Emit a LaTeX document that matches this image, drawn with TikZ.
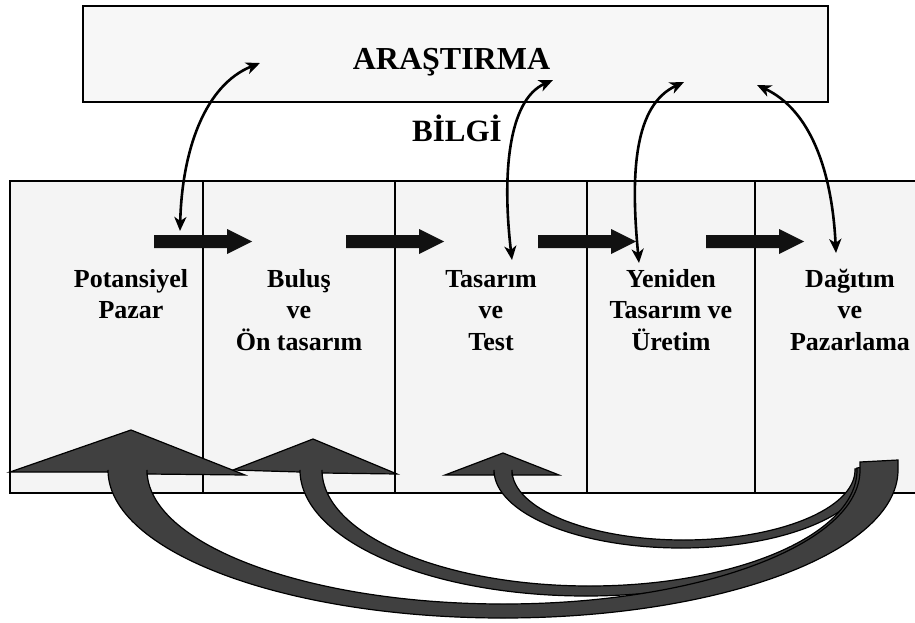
\documentclass[tikz,border=0pt]{standalone}
\usepackage{fontspec}
\setmainfont{Liberation Serif}
\usetikzlibrary{arrows.meta,positioning,calc}
\definecolor{boxgray}{RGB}{247,247,247}
\definecolor{colgray}{RGB}{244,244,244}
\definecolor{flowblack}{RGB}{17,17,17}
\definecolor{loopgray}{RGB}{64,64,64}

\begin{document}
\begin{tikzpicture}[
    x=1pt, y=1pt,
    resbox/.style={draw, line width=1.5pt, fill=boxgray, minimum width=745pt, minimum height=96pt, inner sep=0pt},
    stage/.style={draw, line width=1.5pt, fill=colgray, minimum height=312pt, inner sep=0pt},
    stagetext/.style={align=center, font=\fontsize{26}{31.5}\selectfont\bfseries, inner sep=0pt},
    bigtext/.style={font=\fontsize{32}{38}\selectfont\bfseries, inner sep=0pt},
    infolink/.style={line width=2.6pt, {Stealth[length=14pt,width=12pt,inset=4pt]}-{Stealth[length=14pt,width=12pt,inset=4pt]}},
    flowarrow/.style={fill=flowblack},
    feedback/.style={draw=black, line width=1.2pt, fill=loopgray}
]
\useasboundingbox (0,0) rectangle (915,-623);

% Research box
\node[resbox] (research) at (455.5,-54) {};
\node[bigtext,anchor=base] (researchlbl) at (451.5,-70) {ARAŞTIRMA};

% Information
\node[bigtext,font=\fontsize{31}{37}\selectfont\bfseries,anchor=base] (info) at (457,-142) {BİLGİ};

% Stages
\node[stage,minimum width=193pt] (market) at (106.5,-337) {};
\node[stage,minimum width=192pt] (invention) at (299,-337) {};
\node[stage,minimum width=192pt] (design) at (491,-337) {};
\node[stage,minimum width=168pt] (redesign) at (671,-337) {};
\node[stage,minimum width=170pt] (distribution) at (840,-337) {};

% Stage names (base = last line)
\node[stagetext,anchor=base] (marketlbl) at (131,-318.5) {Potansiyel\\Pazar};
\node[stagetext,anchor=base] (inventionlbl) at (299,-350) {Buluş\\ve\\Ön tasarım};
\node[stagetext,anchor=base] (designlbl) at (491,-350) {Tasarım\\ve\\Test};
\node[stagetext,anchor=base] (redesignlbl) at (671,-350) {Yeniden\\Tasarım ve\\Üretim};
\node[stagetext,anchor=base] (distributionlbl) at (850,-350) {Dağıtım\\ve\\Pazarlama};

% Flow arrows
\foreach \x in {154,346,538,706}
  \fill[flowarrow] (\x,-235) -- ++(73,0) -- ++(0,6) -- ++(25,-12.5) -- ++(-25,-12.5) -- ++(0,6) -- ++(-73,0) -- cycle;

% Research <-> stages
\coordinate (r1) at (260,-63);
\coordinate (r2) at (553,-80);
\coordinate (r3) at (684,-82);
\coordinate (r4) at (757,-85);
\coordinate (s1) at (180,-231);
\coordinate (s2) at (512,-260);
\coordinate (s3) at (639,-263);
\coordinate (s4) at (836,-253);
\draw[infolink] (s1) .. controls (182,-150) and (205,-85) .. (r1);
\draw[infolink] (s2) .. controls (502,-175) and (508,-100) .. (r2);
\draw[infolink] (s3) .. controls (630,-170) and (635,-105) .. (r3);
\draw[infolink] (s4) .. controls (832,-170) and (810,-110) .. (r4);

% Feedback to design
\draw[feedback] (445,-475) -- (503,-453) -- (559,-475) -- (512,-475) -- (512,-470)
  arc[start angle=180, end angle=360, x radius=171.5pt, y radius=70pt]
  -- (855,-469) -- (868,-467) -- (868,-470)
  arc[start angle=0, end angle=-180, x radius=187pt, y radius=78pt]
  -- (494,-475) -- cycle;

% Feedback to invention
\draw[feedback] (233,-470) -- (313,-439) -- (397,-474) -- (322,-473) -- (322,-470)
  arc[start angle=180, end angle=360, x radius=267.5pt, y radius=116pt]
  -- (857,-468) -- (872,-466) -- (872,-470)
  arc[start angle=0, end angle=-180, x radius=286pt, y radius=126pt]
  -- (300,-472) -- cycle;

% Feedback to market
\draw[feedback] (10,-472) -- (131,-430) -- (245,-475) -- (147,-474) -- (147,-470)
  arc[start angle=180, end angle=360, x radius=356.5pt, y radius=134pt]
  -- (860,-462) -- (898,-460) -- (898,-470)
  arc[start angle=0, end angle=-180, x radius=395pt, y radius=148pt]
  -- (108,-472) -- cycle;

\end{tikzpicture}
\end{document}
